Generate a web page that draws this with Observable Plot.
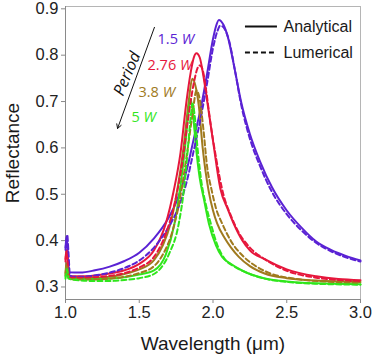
<!DOCTYPE html>
<html>
<head>
<meta charset="utf-8">
<script src="https://cdn.jsdelivr.net/npm/d3@7"></script>
<script src="https://cdn.jsdelivr.net/npm/@observablehq/plot@0.6"></script>
<style>
  html, body { margin: 0; padding: 0; background: #fff; }
  #chart svg { display: block; }
</style>
</head>
<body>
<div id="chart"></div>
<script>
// ---- data (wavelength µm, reflectance) ----
const purpleAnalytical = [[1.0,0.385],[1.008,0.41],[1.016,0.37],[1.025,0.332],[1.1,0.331],[1.2,0.336],[1.3,0.344],[1.4,0.356],[1.5,0.374],[1.6,0.405],[1.7,0.45],[1.76,0.49],[1.82,0.55],[1.87,0.62],[1.92,0.69],[1.96,0.76],[2.0,0.835],[2.02,0.862],[2.04,0.876],[2.07,0.866],[2.1,0.84],[2.15,0.765],[2.19,0.70],[2.25,0.63],[2.32,0.57],[2.4,0.515],[2.5,0.465],[2.6,0.428],[2.7,0.398],[2.8,0.38],[2.9,0.367],[3.0,0.357]];
const purpleLumerical = [[1.0,0.38],[1.006,0.40],[1.012,0.412],[1.02,0.375],[1.03,0.326],[1.05,0.322],[1.1,0.322],[1.2,0.325],[1.3,0.331],[1.4,0.341],[1.5,0.357],[1.6,0.385],[1.7,0.43],[1.76,0.467],[1.82,0.525],[1.87,0.595],[1.92,0.67],[1.96,0.74],[2.0,0.815],[2.03,0.852],[2.05,0.864],[2.08,0.856],[2.11,0.83],[2.15,0.765],[2.19,0.695],[2.25,0.62],[2.32,0.56],[2.4,0.505],[2.5,0.457],[2.6,0.422],[2.7,0.395],[2.8,0.377],[2.9,0.364],[3.0,0.355]];
const redAnalytical = [[1.0,0.36],[1.006,0.38],[1.012,0.372],[1.02,0.335],[1.03,0.323],[1.1,0.323],[1.2,0.325],[1.3,0.329],[1.4,0.336],[1.5,0.35],[1.6,0.379],[1.68,0.437],[1.734,0.508],[1.78,0.59],[1.82,0.70],[1.85,0.765],[1.87,0.795],[1.888,0.804],[1.91,0.795],[1.935,0.755],[1.96,0.702],[2.0,0.615],[2.05,0.512],[2.1,0.468],[2.14,0.437],[2.2,0.40],[2.25,0.379],[2.35,0.36],[2.5,0.338],[2.7,0.323],[2.85,0.317],[3.0,0.3145]];
const redLumerical = [[1.0,0.355],[1.005,0.372],[1.012,0.365],[1.02,0.33],[1.03,0.32],[1.1,0.32],[1.2,0.321],[1.3,0.324],[1.4,0.33],[1.5,0.342],[1.6,0.365],[1.68,0.415],[1.74,0.48],[1.79,0.565],[1.83,0.66],[1.87,0.74],[1.895,0.772],[1.911,0.778],[1.93,0.768],[1.955,0.72],[1.98,0.66],[2.02,0.58],[2.07,0.50],[2.12,0.455],[2.17,0.42],[2.25,0.385],[2.35,0.36],[2.5,0.335],[2.7,0.32],[2.85,0.315],[3.0,0.312]];
const brownAnalytical = [[1.0,0.33],[1.006,0.352],[1.012,0.345],[1.02,0.322],[1.1,0.32],[1.2,0.32],[1.3,0.322],[1.4,0.328],[1.5,0.338],[1.6,0.358],[1.66,0.39],[1.712,0.437],[1.757,0.508],[1.8,0.60],[1.836,0.702],[1.859,0.749],[1.88,0.735],[1.904,0.69],[1.93,0.60],[1.97,0.508],[2.0,0.465],[2.028,0.437],[2.08,0.405],[2.12,0.386],[2.175,0.365],[2.25,0.345],[2.35,0.329],[2.5,0.319],[2.7,0.314],[3.0,0.311]];
const brownLumerical = [[1.0,0.325],[1.006,0.345],[1.012,0.34],[1.02,0.318],[1.1,0.316],[1.2,0.316],[1.3,0.318],[1.4,0.322],[1.5,0.33],[1.6,0.345],[1.66,0.37],[1.72,0.415],[1.77,0.48],[1.82,0.58],[1.86,0.67],[1.888,0.724],[1.91,0.705],[1.935,0.64],[1.96,0.56],[1.99,0.51],[2.02,0.47],[2.062,0.437],[2.12,0.40],[2.209,0.365],[2.3,0.343],[2.4,0.328],[2.55,0.318],[2.75,0.312],[3.0,0.309]];
const greenAnalytical = [[1.0,0.322],[1.006,0.34],[1.012,0.345],[1.02,0.322],[1.1,0.318],[1.2,0.317],[1.3,0.318],[1.4,0.321],[1.5,0.327],[1.6,0.336],[1.68,0.37],[1.739,0.437],[1.775,0.508],[1.81,0.60],[1.835,0.68],[1.847,0.706],[1.862,0.68],[1.885,0.60],[1.91,0.535],[1.938,0.49],[1.972,0.437],[2.02,0.39],[2.062,0.365],[2.12,0.35],[2.2,0.335],[2.345,0.319],[2.5,0.312],[2.7,0.308],[3.0,0.306]];
const greenLumerical = [[1.0,0.318],[1.006,0.33],[1.012,0.338],[1.02,0.318],[1.1,0.314],[1.2,0.313],[1.3,0.313],[1.4,0.315],[1.5,0.319],[1.6,0.328],[1.633,0.336],[1.7,0.37],[1.768,0.437],[1.802,0.508],[1.83,0.60],[1.85,0.67],[1.862,0.695],[1.875,0.672],[1.895,0.60],[1.92,0.53],[1.95,0.48],[1.985,0.437],[2.03,0.39],[2.08,0.36],[2.14,0.345],[2.22,0.332],[2.35,0.318],[2.5,0.311],[2.7,0.307],[3.0,0.305]];

const seriesLabels = ["1.5 W", "2.76 W", "3.8 W", "5 W"];
const seriesColors = ["#5a22d4", "#e6173c", "#a07a1e", "#2fe61c"];
const analyticalData = [purpleAnalytical, redAnalytical, brownAnalytical, greenAnalytical];
const lumericalData = [purpleLumerical, redLumerical, brownLumerical, greenLumerical];

// label positions (data coords)
const labelX = [1.624, 1.556, 1.495, 1.447];
const labelY = [0.834, 0.778, 0.720, 0.666];

const xTicks = [1.0, 1.5, 2.0, 2.5, 3.0];
const yTicks = [0.3, 0.4, 0.5, 0.6, 0.7, 0.8, 0.9];
const xDomain = [1.0, 3.0];
const yDomain = [0.273, 0.905];

const legendNames = ["Analytical", "Lumerical"];
const legendX = [2.22, 2.437, 2.478];
const legendY = [0.862, 0.806];

const arrowData = [{x1: 1.603, y1: 0.860, x2: 1.353, y2: 0.642}];
const periodLabel = [{x: 1.418, y: 0.760, text: "Period"}];

const toRows = pts => pts.map(([x, y]) => ({x, y}));

const marks = [
  Plot.frame({stroke: "#b5b5b5"}),
  Plot.ruleX([xDomain[0]], {stroke: "#8a8a8a"}),
  Plot.ruleY([yDomain[0]], {stroke: "#8a8a8a"}),
  Plot.axisX({ticks: xTicks, tickFormat: d3.format(".1f"), tickSize: 4, tickPadding: 3, fontSize: 16.5, label: null}),
  Plot.axisY({ticks: yTicks, tickFormat: d3.format(".1f"), tickSize: 4, tickPadding: 3, fontSize: 16.5, label: null}),
];

analyticalData.forEach((pts, i) => {
  marks.push(Plot.line(toRows(pts), {x: "x", y: "y", stroke: seriesColors[i], strokeWidth: 2, curve: "monotone-x"}));
});
lumericalData.forEach((pts, i) => {
  marks.push(Plot.line(toRows(pts), {x: "x", y: "y", stroke: seriesColors[i], strokeWidth: 2, strokeDasharray: "5,3", curve: "monotone-x"}));
});

// series labels
marks.push(Plot.text(seriesLabels.map((t, i) => ({t, x: labelX[i], y: labelY[i], c: seriesColors[i]})),
  {x: "x", y: "y", text: "t", fill: d => d.c, textAnchor: "start", fontSize: 14.5, fontFamily: "Open Sans"}));

// arrow + Period
marks.push(Plot.arrow(arrowData, {x1: "x1", y1: "y1", x2: "x2", y2: "y2", stroke: "#111", strokeWidth: 1, headLength: 7}));
marks.push(Plot.text(periodLabel, {x: "x", y: "y", text: "text", rotate: -67, fontSize: 16, fontStyle: "italic", fontFamily: "Open Sans", fill: "#111"}));

// legend
marks.push(Plot.ruleY([legendY[0]], {x1: legendX[0], x2: legendX[1], stroke: "#111", strokeWidth: 2}));
marks.push(Plot.ruleY([legendY[1]], {x1: legendX[0], x2: legendX[1], stroke: "#111", strokeWidth: 2, strokeDasharray: "5,3"}));
marks.push(Plot.text(legendNames.map((t, i) => ({t, y: legendY[i]})),
  {x: legendX[2], y: "y", text: "t", textAnchor: "start", fontSize: 16, fill: "#1a1a1a"}));

// axis titles
marks.push(Plot.text(["Wavelength (μm)"], {frameAnchor: "bottom", dy: 44, textAnchor: "middle", lineAnchor: "middle", fontSize: 19, fill: "#1a1a1a"}));
marks.push(Plot.text(["Reflectance"], {frameAnchor: "left", dx: -53, rotate: -90, textAnchor: "middle", lineAnchor: "middle", fontSize: 19, fill: "#1a1a1a"}));

const chart = Plot.plot({
  width: 374,
  height: 363,
  marginLeft: 65,
  marginRight: 14,
  marginTop: 6,
  marginBottom: 64,
  x: {domain: xDomain},
  y: {domain: yDomain},
  style: {fontFamily: "'Liberation Sans', Arial, sans-serif", color: "#222", background: "#fff", overflow: "visible"},
  marks
});

// tick marks gray
d3.select(chart).selectAll("g[aria-label='x-axis tick'], g[aria-label='y-axis tick']").attr("stroke", "#8a8a8a");

// italic W in series labels
d3.select(chart).selectAll("text").each(function() {
  const t = this.textContent;
  if (seriesLabels.includes(t)) {
    const num = t.slice(0, -1);
    this.textContent = "";
    d3.select(this).append("tspan").text(num);
    d3.select(this).append("tspan").attr("font-style", "italic").text("W");
  }
});

document.getElementById("chart").appendChild(chart);
</script>
</body>
</html>
